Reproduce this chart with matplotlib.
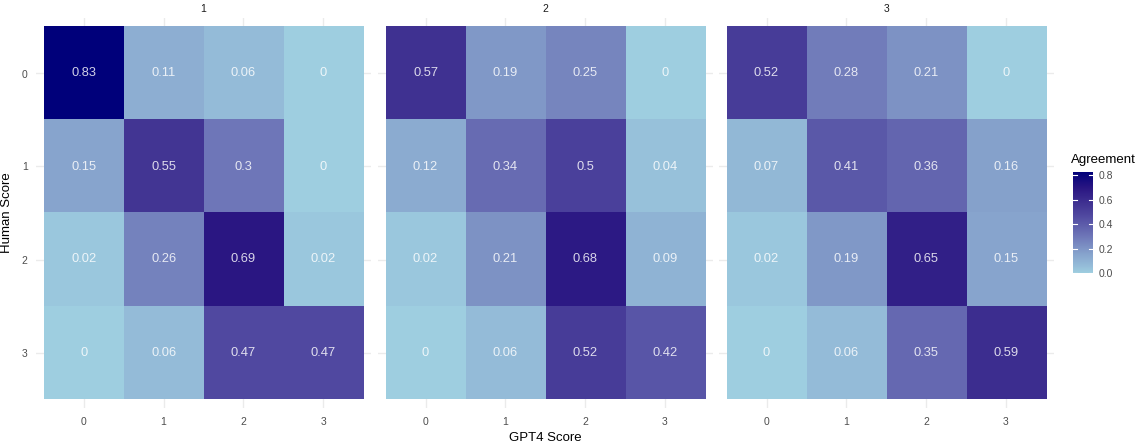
import numpy as np
import matplotlib
matplotlib.use("Agg")
import matplotlib.pyplot as plt
from matplotlib.colors import LinearSegmentedColormap, Normalize

plt.rcParams['font.family'] = ['Liberation Sans', 'DejaVu Sans']

facets = ["1", "2", "3"]
gpt4_scores = ["0", "1", "2", "3"]
human_scores = ["0", "1", "2", "3"]
agree_1 = [[0.83, 0.11, 0.06, 0.00],
           [0.15, 0.55, 0.30, 0.00],
           [0.02, 0.26, 0.69, 0.02],
           [0.00, 0.06, 0.47, 0.47]]
agree_2 = [[0.57, 0.19, 0.25, 0.00],
           [0.12, 0.34, 0.50, 0.04],
           [0.02, 0.21, 0.68, 0.09],
           [0.00, 0.06, 0.52, 0.42]]
agree_3 = [[0.52, 0.28, 0.21, 0.00],
           [0.07, 0.41, 0.36, 0.16],
           [0.02, 0.19, 0.65, 0.15],
           [0.00, 0.06, 0.35, 0.59]]
panels = [agree_1, agree_2, agree_3]
legend_ticks = [0.0, 0.2, 0.4, 0.6, 0.8]

vmax = max(max(max(r) for r in p) for p in panels)
norm = Normalize(0, vmax)

# colour ramp (light blue -> navy), anchored at fractions of the scale
ramp = [(0.00, '#9ECEE0'), (0.06 / 0.83, '#94BBD8'), (0.15 / 0.83, '#87A4CD'),
        (0.30 / 0.83, '#6E76B8'), (0.47 / 0.83, '#5048A0'), (0.55 / 0.83, '#433694'),
        (0.69 / 0.83, '#2B1783'), (1.00, '#00007A')]
cmap = LinearSegmentedColormap.from_list('agree', ramp, N=256)

fig = plt.figure(figsize=(11.42, 4.44), dpi=100)
W, H = 1142, 444
panel_x = [36, 377.7, 718.7]
pw = 335
top, bot = 17.7, 408.3

for i, (lab, data) in enumerate(zip(facets, panels)):
    ax = fig.add_axes([panel_x[i] / W, (H - bot) / H, pw / W, (bot - top) / H])
    arr = np.array(data)
    for k in range(4):
        ax.axvline(k, color='#EBEBEB', lw=1.0, zorder=0)
        ax.axhline(k, color='#EBEBEB', lw=1.0, zorder=0)
    ax.imshow(arr, cmap=cmap, norm=norm, extent=(-0.5, 3.5, 3.5, -0.5),
              interpolation='nearest', zorder=1, aspect='auto')
    for r in range(4):
        for c in range(4):
            v = arr[r, c]
            ax.text(c, r, f"{v:g}", color='white', alpha=0.82, ha='center',
                    va='center', fontsize=9.3, zorder=2)
    ax.set_xlim(-0.6, 3.6)
    ax.set_ylim(3.6, -0.6)
    for s in ax.spines.values():
        s.set_visible(False)
    ax.set_xticks(range(4))
    ax.set_xticklabels(gpt4_scores)
    ax.set_yticks(range(4))
    if i == 0:
        ax.set_yticklabels(human_scores)
        ax.set_ylabel("Human Score", fontsize=9.5, labelpad=6)
    else:
        ax.set_yticklabels([])
    ax.tick_params(length=0, labelsize=7.5, labelcolor='#4D4D4D', pad=6)
    ax.set_title(lab, fontsize=7.5, color='#1A1A1A', pad=4)
    if i == 1:
        ax.set_xlabel("GPT4 Score", fontsize=9.5, labelpad=4)

# legend colorbar
cax = fig.add_axes([1073 / W, (H - 273) / H, 20 / W, (273 - 171.7) / H])
grad = np.linspace(0, vmax, 300).reshape(-1, 1)
cax.imshow(grad, cmap=cmap, norm=norm, extent=(0, 1, 0, vmax), origin='lower', aspect='auto')
cax.set_xlim(0, 1)
cax.set_ylim(0, vmax)
for t in legend_ticks:
    cax.plot([0, 0.2], [t, t], color='white', lw=0.8)
    cax.plot([0.8, 1], [t, t], color='white', lw=0.8)
for s in cax.spines.values():
    s.set_visible(False)
cax.set_xticks([])
cax.yaxis.tick_right()
cax.set_yticks(legend_ticks)
cax.set_yticklabels([f"{t:.1f}" for t in legend_ticks])
cax.tick_params(length=0, labelsize=7.5, labelcolor='#4D4D4D', pad=4)
fig.text(1071 / W, (H - 160) / H, "Agreement", fontsize=9.5, ha='left', va='center')

fig.savefig("out.png", dpi=100)
